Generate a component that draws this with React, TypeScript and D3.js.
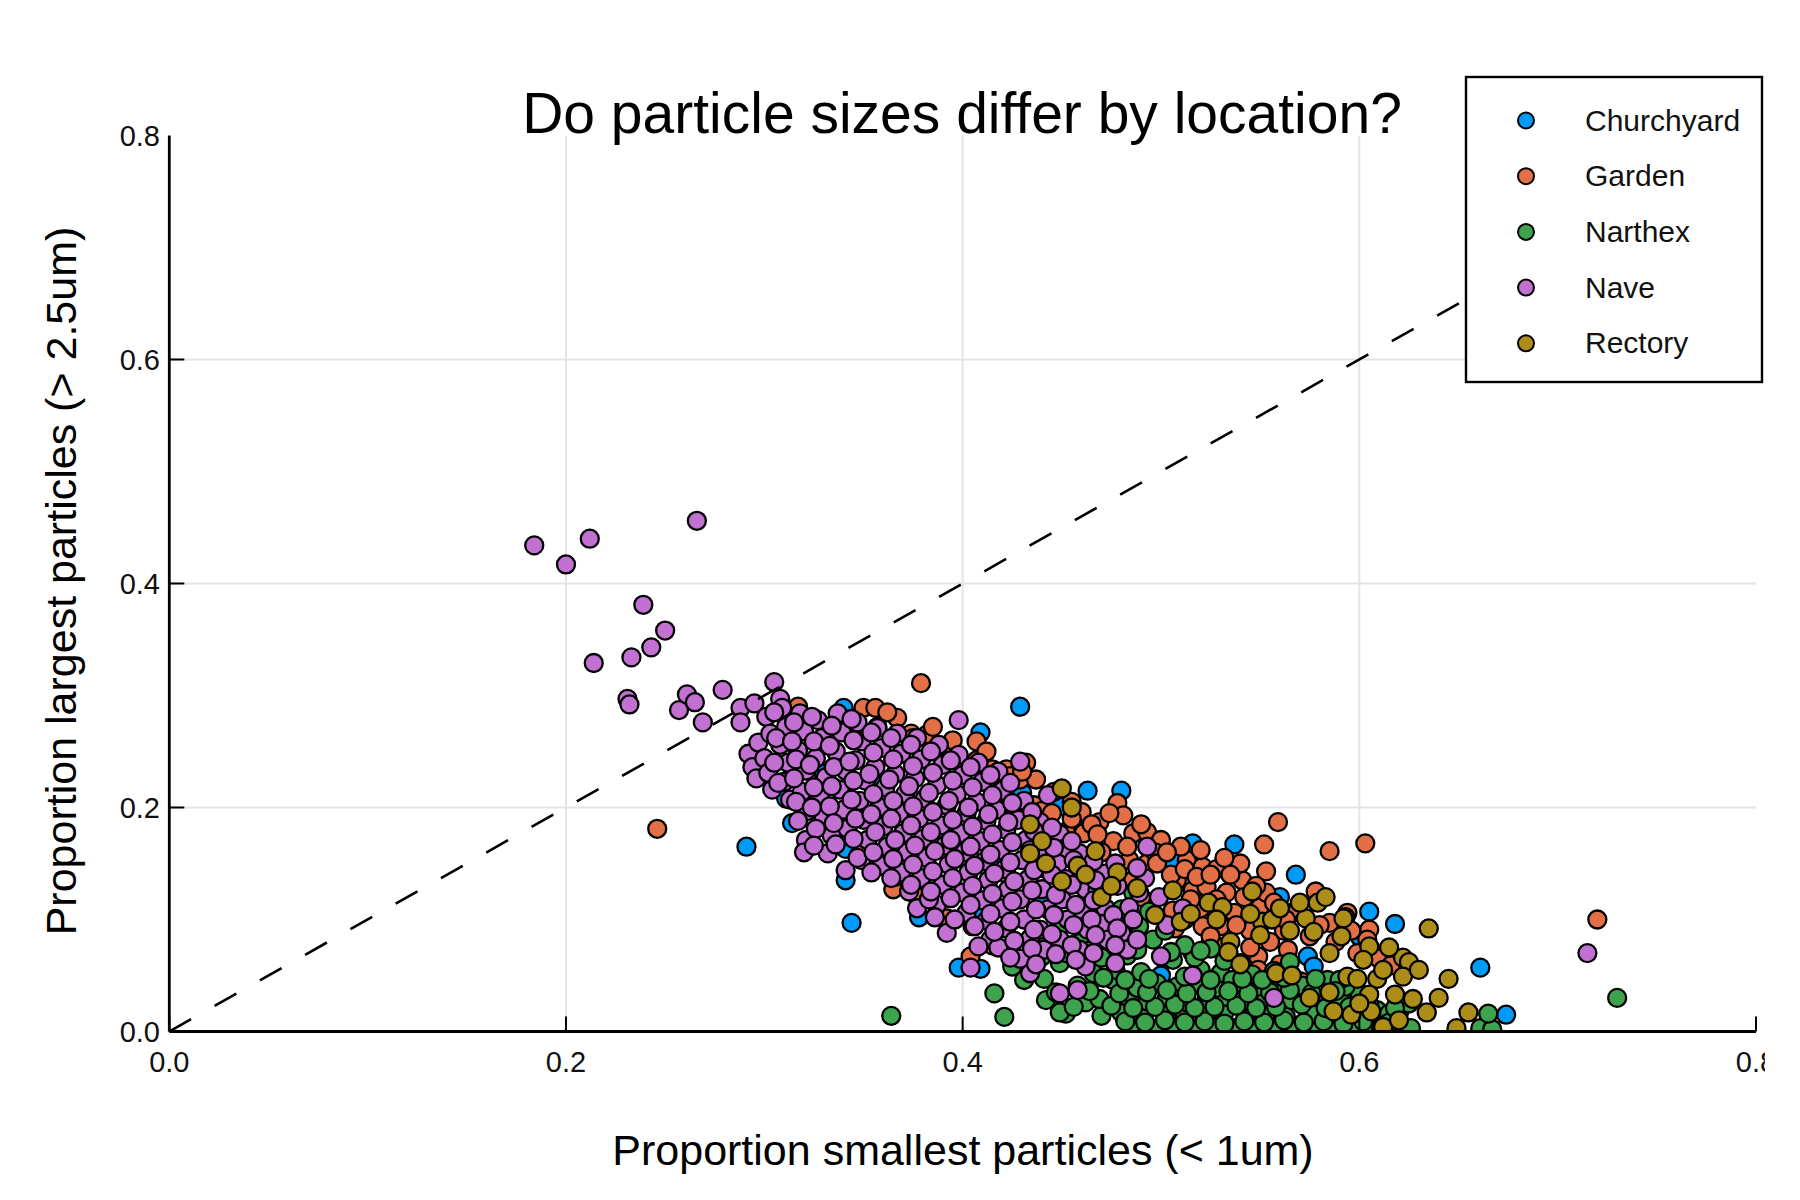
import React, { useRef, useEffect } from 'react';
import * as d3 from 'd3';

type Pt = [number, number];

const locations = ['Churchyard', 'Garden', 'Narthex', 'Nave', 'Rectory'];
const colors = ['#009af9', '#e26f46', '#3da44d', '#c271d2', '#ac8d18'];
const xTicks = [0, 0.2, 0.4, 0.6, 0.8];
const yTicks = [0, 0.2, 0.4, 0.6, 0.8];
const gridTicks = [0.2, 0.4, 0.6];

// proportion < 1um, proportion > 2.5um
const churchyard: Pt[] = [
  [0.291, 0.165], [0.314, 0.186], [0.311, 0.208], [0.340, 0.289], [0.347, 0.263], [0.429, 0.290],
  [0.409, 0.267], [0.344, 0.097], [0.341, 0.135], [0.341, 0.163], [0.378, 0.102], [0.398, 0.057],
  [0.409, 0.056], [0.410, 0.108], [0.430, 0.213], [0.449, 0.201], [0.456, 0.186], [0.456, 0.195],
  [0.463, 0.215], [0.480, 0.215], [0.506, 0.153], [0.516, 0.168], [0.537, 0.167], [0.560, 0.120],
  [0.568, 0.140], [0.566, 0.106], [0.541, 0.102], [0.525, 0.079], [0.540, 0.061], [0.574, 0.067],
  [0.577, 0.058], [0.605, 0.107], [0.618, 0.096], [0.661, 0.057], [0.674, 0.015], [0.600, 0.085],
  [0.470, 0.130], [0.440, 0.120], [0.500, 0.050], [0.555, 0.020], [0.360, 0.220], [0.390, 0.180],
  [0.330, 0.230], [0.420, 0.150], [0.482, 0.100],
];

const garden: Pt[] = [
  [0.246, 0.181], [0.379, 0.311], [0.720, 0.100], [0.319, 0.203], [0.317, 0.290], [0.344, 0.272],
  [0.350, 0.289], [0.356, 0.289], [0.357, 0.272], [0.367, 0.280], [0.374, 0.266], [0.375, 0.262],
  [0.382, 0.265], [0.348, 0.158], [0.365, 0.127], [0.374, 0.125], [0.366, 0.138], [0.392, 0.101],
  [0.415, 0.077], [0.404, 0.067], [0.396, 0.242], [0.407, 0.259], [0.407, 0.242], [0.415, 0.234],
  [0.422, 0.234], [0.424, 0.228], [0.429, 0.225], [0.437, 0.225], [0.436, 0.202], [0.442, 0.184],
  [0.452, 0.178], [0.461, 0.177], [0.469, 0.187], [0.476, 0.170], [0.478, 0.204], [0.481, 0.193],
  [0.486, 0.177], [0.493, 0.178], [0.500, 0.171], [0.484, 0.153], [0.493, 0.150], [0.513, 0.153],
  [0.521, 0.147], [0.486, 0.135], [0.508, 0.135], [0.516, 0.126], [0.523, 0.129], [0.506, 0.108],
  [0.507, 0.092], [0.516, 0.070], [0.521, 0.094], [0.530, 0.094], [0.533, 0.124], [0.537, 0.106],
  [0.550, 0.111], [0.553, 0.124], [0.549, 0.067], [0.549, 0.055], [0.564, 0.073], [0.570, 0.045],
  [0.569, 0.109], [0.585, 0.097], [0.594, 0.106], [0.559, 0.187], [0.585, 0.161], [0.603, 0.168],
  [0.552, 0.167], [0.553, 0.143], [0.593, 0.102], [0.605, 0.091], [0.614, 0.064], [0.571, 0.044],
  [0.599, 0.070], [0.610, 0.065], [0.616, 0.059], [0.541, 0.135], [0.528, 0.145], [0.545, 0.090],
  [0.460, 0.196], [0.470, 0.160], [0.455, 0.205], [0.446, 0.214], [0.432, 0.240], [0.440, 0.197],
  [0.422, 0.141], [0.375, 0.124], [0.418, 0.213], [0.426, 0.200], [0.490, 0.120], [0.530, 0.075],
  [0.562, 0.090], [0.578, 0.125], [0.540, 0.150], [0.510, 0.165], [0.520, 0.110], [0.497, 0.160],
  [0.445, 0.195], [0.465, 0.185], [0.474, 0.195], [0.483, 0.165], [0.490, 0.185], [0.498, 0.150],
  [0.503, 0.160], [0.505, 0.140], [0.512, 0.145], [0.518, 0.138], [0.525, 0.140], [0.528, 0.118],
  [0.535, 0.140], [0.542, 0.120], [0.548, 0.130], [0.557, 0.115], [0.563, 0.100], [0.575, 0.085],
  [0.580, 0.095], [0.588, 0.080], [0.596, 0.090], [0.604, 0.082], [0.512, 0.100], [0.525, 0.085],
  [0.538, 0.095], [0.555, 0.080], [0.560, 0.060], [0.545, 0.075], [0.515, 0.118], [0.430, 0.232],
  [0.420, 0.222], [0.412, 0.250], [0.390, 0.255], [0.385, 0.272], [0.362, 0.285], [0.395, 0.260],
  [0.455, 0.190], [0.468, 0.176], [0.520, 0.162], [0.532, 0.155],
];

const narthex: Pt[] = [
  [0.487, 0.003], [0.497, 0.002], [0.507, 0.004], [0.517, 0.002], [0.527, 0.004], [0.537, 0.003],
  [0.547, 0.002], [0.557, 0.004], [0.567, 0.003], [0.577, 0.002], [0.587, 0.004], [0.597, 0.003],
  [0.605, 0.002], [0.611, 0.003], [0.619, 0.002], [0.626, 0.003], [0.661, 0.003], [0.667, 0.002],
  [0.452, 0.016], [0.470, 0.014], [0.480, 0.017], [0.491, 0.013], [0.502, 0.016], [0.512, 0.015],
  [0.522, 0.013], [0.532, 0.017], [0.543, 0.014], [0.553, 0.016], [0.563, 0.013], [0.578, 0.015],
  [0.588, 0.015], [0.609, 0.019], [0.615, 0.016], [0.620, 0.017], [0.665, 0.016], [0.364, 0.014],
  [0.421, 0.013], [0.449, 0.017], [0.442, 0.028], [0.462, 0.026], [0.469, 0.029], [0.483, 0.031],
  [0.493, 0.027], [0.503, 0.030], [0.513, 0.026], [0.523, 0.029], [0.533, 0.031], [0.543, 0.027],
  [0.553, 0.030], [0.566, 0.028], [0.577, 0.031], [0.590, 0.031], [0.600, 0.034], [0.625, 0.025],
  [0.431, 0.046], [0.458, 0.041], [0.476, 0.046], [0.488, 0.039], [0.498, 0.043], [0.508, 0.040],
  [0.518, 0.042], [0.528, 0.039], [0.539, 0.043], [0.549, 0.040], [0.560, 0.038], [0.571, 0.041],
  [0.584, 0.046], [0.593, 0.040], [0.416, 0.034], [0.449, 0.061], [0.466, 0.052], [0.477, 0.055],
  [0.490, 0.053], [0.506, 0.064], [0.520, 0.055], [0.530, 0.052], [0.546, 0.051], [0.557, 0.054],
  [0.590, 0.046], [0.536, 0.046], [0.425, 0.058], [0.440, 0.067], [0.452, 0.070], [0.470, 0.066],
  [0.483, 0.068], [0.517, 0.066], [0.532, 0.063], [0.565, 0.062], [0.437, 0.080], [0.459, 0.079],
  [0.476, 0.081], [0.496, 0.082], [0.512, 0.077], [0.525, 0.074], [0.405, 0.094], [0.448, 0.090],
  [0.468, 0.093], [0.489, 0.094], [0.502, 0.090], [0.462, 0.106], [0.480, 0.109], [0.494, 0.107],
  [0.486, 0.124], [0.730, 0.030],
  [0.482, 0.009], [0.492, 0.008], [0.502, 0.010], [0.512, 0.008], [0.522, 0.009], [0.532, 0.007],
  [0.542, 0.009], [0.552, 0.008], [0.562, 0.010], [0.572, 0.008], [0.582, 0.009], [0.592, 0.007],
  [0.602, 0.009], [0.615, 0.008],
  [0.456, 0.022], [0.475, 0.023], [0.486, 0.021], [0.497, 0.022], [0.507, 0.024], [0.517, 0.021],
  [0.527, 0.022], [0.538, 0.023], [0.548, 0.021], [0.558, 0.022], [0.571, 0.024], [0.583, 0.021],
  [0.595, 0.022], [0.605, 0.024], [0.618, 0.021],
  [0.447, 0.035], [0.464, 0.036], [0.479, 0.034], [0.493, 0.035], [0.503, 0.037], [0.513, 0.034],
  [0.523, 0.035], [0.534, 0.036], [0.544, 0.034], [0.555, 0.035], [0.565, 0.037], [0.576, 0.034],
  [0.588, 0.036],
  [0.441, 0.047], [0.471, 0.048], [0.482, 0.046], [0.494, 0.047], [0.512, 0.049], [0.525, 0.046],
  [0.541, 0.047], [0.551, 0.046], [0.562, 0.048], [0.578, 0.047],
  [0.463, 0.072], [0.488, 0.073], [0.505, 0.071], [0.520, 0.072],
];

const nave: Pt[] = [
  [0.184, 0.434], [0.200, 0.417], [0.212, 0.440], [0.266, 0.456], [0.239, 0.381], [0.250, 0.358],
  [0.243, 0.343], [0.233, 0.334], [0.214, 0.329], [0.231, 0.297], [0.232, 0.292], [0.257, 0.287],
  [0.261, 0.301], [0.265, 0.294], [0.269, 0.276], [0.279, 0.305], [0.305, 0.312], [0.288, 0.289],
  [0.295, 0.293], [0.288, 0.276], [0.308, 0.297], [0.715, 0.070], [0.398, 0.278],
  [0.292, 0.248], [0.294, 0.236], [0.297, 0.258], [0.296, 0.226],
  [0.301, 0.281], [0.303, 0.266], [0.300, 0.244], [0.302, 0.231], [0.304, 0.216],
  [0.309, 0.289], [0.311, 0.272], [0.308, 0.256], [0.312, 0.240], [0.310, 0.223], [0.313, 0.207],
  [0.318, 0.284], [0.320, 0.268], [0.317, 0.251], [0.321, 0.233], [0.319, 0.214], [0.322, 0.197],
  [0.321, 0.171], [0.320, 0.160],
  [0.327, 0.278], [0.329, 0.262], [0.326, 0.244], [0.331, 0.227], [0.328, 0.209], [0.330, 0.191],
  [0.332, 0.159], [0.334, 0.175],
  [0.337, 0.284], [0.339, 0.267], [0.336, 0.250], [0.341, 0.233], [0.338, 0.216], [0.340, 0.198],
  [0.342, 0.181], [0.341, 0.144],
  [0.347, 0.276], [0.349, 0.259], [0.346, 0.242], [0.351, 0.224], [0.348, 0.206], [0.350, 0.189],
  [0.352, 0.171], [0.349, 0.153],
  [0.357, 0.271], [0.359, 0.253], [0.356, 0.236], [0.361, 0.218], [0.358, 0.200], [0.360, 0.183],
  [0.362, 0.165], [0.359, 0.148],
  [0.367, 0.266], [0.369, 0.248], [0.366, 0.230], [0.371, 0.212], [0.368, 0.195], [0.370, 0.177],
  [0.372, 0.160], [0.369, 0.142], [0.373, 0.125],
  [0.377, 0.262], [0.379, 0.243], [0.376, 0.226], [0.381, 0.208], [0.378, 0.190], [0.380, 0.172],
  [0.382, 0.155], [0.379, 0.137], [0.377, 0.110], [0.387, 0.113],
  [0.388, 0.256], [0.390, 0.238], [0.387, 0.220], [0.392, 0.202], [0.389, 0.184], [0.391, 0.166],
  [0.393, 0.149], [0.390, 0.131], [0.392, 0.088],
  [0.398, 0.247], [0.400, 0.229], [0.397, 0.212], [0.402, 0.195], [0.399, 0.177], [0.401, 0.160],
  [0.403, 0.142], [0.400, 0.124], [0.402, 0.106], [0.404, 0.057],
  [0.408, 0.240], [0.410, 0.223], [0.407, 0.205], [0.412, 0.188], [0.409, 0.170], [0.411, 0.152],
  [0.413, 0.135], [0.410, 0.117], [0.412, 0.099], [0.414, 0.082],
  [0.418, 0.232], [0.420, 0.215], [0.417, 0.198], [0.422, 0.180], [0.419, 0.162], [0.421, 0.145],
  [0.423, 0.127], [0.420, 0.110], [0.422, 0.092], [0.418, 0.075],
  [0.429, 0.241], [0.431, 0.206], [0.428, 0.189], [0.432, 0.171], [0.430, 0.153], [0.433, 0.136],
  [0.429, 0.118], [0.431, 0.100], [0.434, 0.083], [0.434, 0.052], [0.429, 0.065],
  [0.443, 0.211], [0.439, 0.187], [0.441, 0.172], [0.438, 0.158], [0.442, 0.145], [0.440, 0.127],
  [0.443, 0.109], [0.439, 0.091], [0.441, 0.073],
  [0.449, 0.176], [0.451, 0.163], [0.448, 0.150], [0.452, 0.136], [0.450, 0.118], [0.453, 0.100],
  [0.449, 0.082], [0.449, 0.034], [0.458, 0.037],
  [0.459, 0.159], [0.461, 0.146], [0.462, 0.127], [0.460, 0.109], [0.463, 0.091], [0.459, 0.073],
  [0.462, 0.058],
  [0.472, 0.141], [0.468, 0.126], [0.472, 0.110], [0.470, 0.096], [0.473, 0.082], [0.477, 0.061],
  [0.493, 0.165], [0.492, 0.137], [0.484, 0.111], [0.486, 0.100], [0.480, 0.088], [0.483, 0.073],
  [0.499, 0.120], [0.500, 0.067], [0.503, 0.095], [0.511, 0.110], [0.516, 0.050], [0.557, 0.030],
  [0.305, 0.285], [0.306, 0.262], [0.305, 0.240], [0.307, 0.222],
  [0.315, 0.276], [0.314, 0.259], [0.316, 0.243], [0.315, 0.226], [0.316, 0.205], [0.317, 0.188],
  [0.324, 0.281], [0.325, 0.259], [0.323, 0.238], [0.325, 0.218], [0.324, 0.200], [0.326, 0.181],
  [0.325, 0.166],
  [0.334, 0.273], [0.333, 0.255], [0.335, 0.236], [0.334, 0.219], [0.333, 0.201], [0.335, 0.186],
  [0.336, 0.167],
  [0.344, 0.279], [0.345, 0.260], [0.343, 0.241], [0.345, 0.224], [0.344, 0.207], [0.346, 0.190],
  [0.345, 0.172], [0.347, 0.155],
  [0.354, 0.267], [0.355, 0.249], [0.353, 0.230], [0.355, 0.212], [0.354, 0.194], [0.356, 0.178],
  [0.355, 0.160], [0.354, 0.142],
  [0.364, 0.262], [0.365, 0.243], [0.363, 0.225], [0.365, 0.206], [0.364, 0.190], [0.366, 0.171],
  [0.365, 0.154], [0.364, 0.137],
  [0.374, 0.256], [0.375, 0.237], [0.373, 0.219], [0.375, 0.201], [0.374, 0.184], [0.376, 0.166],
  [0.375, 0.149], [0.374, 0.131], [0.383, 0.118],
  [0.384, 0.250], [0.385, 0.231], [0.383, 0.213], [0.385, 0.196], [0.384, 0.178], [0.386, 0.161],
  [0.385, 0.143], [0.384, 0.125], [0.386, 0.102],
  [0.394, 0.242], [0.395, 0.224], [0.393, 0.206], [0.395, 0.189], [0.394, 0.171], [0.396, 0.154],
  [0.395, 0.137], [0.394, 0.119], [0.396, 0.100],
  [0.404, 0.236], [0.405, 0.218], [0.403, 0.200], [0.405, 0.183], [0.404, 0.165], [0.406, 0.148],
  [0.405, 0.130], [0.404, 0.113], [0.406, 0.094], [0.408, 0.076],
  [0.414, 0.229], [0.415, 0.211], [0.413, 0.194], [0.415, 0.176], [0.414, 0.158], [0.416, 0.141],
  [0.415, 0.123], [0.414, 0.105], [0.416, 0.089],
  [0.424, 0.222], [0.425, 0.204], [0.423, 0.187], [0.425, 0.169], [0.424, 0.151], [0.426, 0.134],
  [0.425, 0.116], [0.424, 0.098], [0.426, 0.081], [0.424, 0.066],
  [0.435, 0.196], [0.436, 0.179], [0.434, 0.162], [0.436, 0.144], [0.435, 0.126], [0.437, 0.109],
  [0.436, 0.091], [0.435, 0.074], [0.437, 0.060],
  [0.445, 0.182], [0.446, 0.164], [0.445, 0.140], [0.447, 0.122], [0.446, 0.104], [0.445, 0.087],
  [0.447, 0.069],
  [0.455, 0.170], [0.456, 0.153], [0.455, 0.131], [0.457, 0.113], [0.456, 0.095], [0.455, 0.077],
  [0.457, 0.064],
  [0.466, 0.152], [0.467, 0.135], [0.466, 0.117], [0.465, 0.100], [0.467, 0.086], [0.466, 0.070],
  [0.477, 0.150], [0.478, 0.130], [0.476, 0.104], [0.478, 0.092], [0.477, 0.077],
  [0.488, 0.146], [0.489, 0.124], [0.488, 0.082],
];

const rectory: Pt[] = [
  [0.450, 0.217], [0.434, 0.185], [0.440, 0.170], [0.434, 0.159], [0.458, 0.148], [0.450, 0.134],
  [0.467, 0.161], [0.506, 0.126], [0.524, 0.115], [0.531, 0.111], [0.546, 0.125], [0.551, 0.098],
  [0.556, 0.100], [0.550, 0.086], [0.535, 0.080], [0.534, 0.071], [0.558, 0.052], [0.566, 0.050],
  [0.579, 0.115], [0.573, 0.101], [0.577, 0.089], [0.592, 0.101], [0.591, 0.085], [0.594, 0.049],
  [0.605, 0.076], [0.602, 0.064], [0.622, 0.066], [0.625, 0.062], [0.622, 0.049], [0.609, 0.047],
  [0.599, 0.047], [0.605, 0.033], [0.618, 0.033], [0.635, 0.092], [0.645, 0.047], [0.596, 0.015],
  [0.634, 0.017], [0.655, 0.017], [0.649, 0.003], [0.488, 0.128], [0.497, 0.104], [0.478, 0.142],
  [0.510, 0.098], [0.540, 0.060], [0.587, 0.018], [0.627, 0.029], [0.606, 0.018], [0.612, 0.004],
  [0.575, 0.030], [0.470, 0.120],
  [0.455, 0.200], [0.442, 0.150], [0.462, 0.140], [0.475, 0.130], [0.515, 0.105], [0.528, 0.100],
  [0.545, 0.105], [0.565, 0.090], [0.585, 0.070], [0.615, 0.075], [0.612, 0.055], [0.630, 0.055],
  [0.585, 0.035], [0.600, 0.025], [0.640, 0.030], [0.620, 0.010], [0.570, 0.115], [0.583, 0.120],
  [0.560, 0.110],
];

const seriesData: Pt[][] = [churchyard, garden, narthex, nave, rectory];

const W = 1800;
const H = 1200;
const left = 169.3;
const right = 1756;
const top = 135.5;
const bottom = 1031.5;
const font = '"Liberation Sans", Arial, Helvetica, sans-serif';

const App: React.FC = () => {
  const svgRef = useRef<SVGSVGElement>(null);

  useEffect(() => {
    if (!svgRef.current) return;
    const svg = d3.select(svgRef.current);
    svg.selectAll('*').remove();

    const x = d3.scaleLinear().domain([0, 0.8]).range([left, right]);
    const y = d3.scaleLinear().domain([0, 0.8]).range([bottom, top]);

    const defs = svg.append('defs');
    defs.append('clipPath').attr('id', 'page-clip')
      .append('rect').attr('x', 0).attr('y', 0).attr('width', 1765).attr('height', H);
    defs.append('clipPath').attr('id', 'plot-clip')
      .append('rect').attr('x', left).attr('y', top).attr('width', right - left).attr('height', bottom - top);

    const root = svg.append('g').attr('clip-path', 'url(#page-clip)');
    root.append('rect').attr('width', W).attr('height', H).attr('fill', '#fff');

    // grid
    const grid = root.append('g').attr('stroke', '#e4e4e4').attr('stroke-width', 2);
    gridTicks.forEach(t => {
      grid.append('line').attr('x1', x(t)).attr('x2', x(t)).attr('y1', top).attr('y2', bottom);
      grid.append('line').attr('x1', left).attr('x2', right).attr('y1', y(t)).attr('y2', y(t));
    });

    // scatter, in series order
    const plot = root.append('g').attr('clip-path', 'url(#plot-clip)');
    seriesData.forEach((pts, i) => {
      plot.append('g')
        .selectAll('circle')
        .data(pts)
        .join('circle')
        .attr('cx', d => x(d[0]))
        .attr('cy', d => y(d[1]))
        .attr('r', 9)
        .attr('fill', colors[i])
        .attr('stroke', '#000')
        .attr('stroke-width', 2.3);
    });

    // y = x reference line
    const line = d3.line<number>().x(d => x(d)).y(d => y(d));
    plot.append('path')
      .attr('d', line([0, 0.8]))
      .attr('fill', 'none')
      .attr('stroke', '#000')
      .attr('stroke-width', 2.6)
      .attr('stroke-dasharray', '25 27');

    // axes
    const axes = root.append('g').attr('stroke', '#000');
    axes.append('line').attr('x1', left).attr('x2', right).attr('y1', bottom).attr('y2', bottom).attr('stroke-width', 2.8);
    axes.append('line').attr('x1', left).attr('x2', left).attr('y1', top).attr('y2', bottom).attr('stroke-width', 2.8);
    xTicks.forEach(t => {
      axes.append('line').attr('x1', x(t)).attr('x2', x(t)).attr('y1', bottom).attr('y2', bottom - 15).attr('stroke-width', 2);
    });
    yTicks.slice(0, 4).forEach(t => {
      axes.append('line').attr('x1', left).attr('x2', left + 15).attr('y1', y(t)).attr('y2', y(t)).attr('stroke-width', 2);
    });

    const fmt = d3.format('.1f');
    root.append('g')
      .selectAll('text')
      .data(xTicks)
      .join('text')
      .attr('x', d => x(d))
      .attr('y', 1072)
      .attr('text-anchor', 'middle')
      .attr('font-family', font)
      .attr('font-size', 29)
      .attr('fill', '#111')
      .text(d => fmt(d));
    root.append('g')
      .selectAll('text')
      .data(yTicks)
      .join('text')
      .attr('x', 160)
      .attr('y', d => y(d) + 10.4)
      .attr('text-anchor', 'end')
      .attr('font-family', font)
      .attr('font-size', 29)
      .attr('fill', '#111')
      .text(d => fmt(d));

    // titles
    root.append('text')
      .attr('x', 962).attr('y', 133)
      .attr('text-anchor', 'middle')
      .attr('font-family', font)
      .attr('font-size', 57)
      .attr('fill', '#000')
      .text('Do particle sizes differ by location?');
    root.append('text')
      .attr('x', 963).attr('y', 1165)
      .attr('text-anchor', 'middle')
      .attr('font-family', font)
      .attr('font-size', 43)
      .attr('fill', '#000')
      .text('Proportion smallest particles (< 1um)');
    root.append('text')
      .attr('transform', 'translate(76, 581) rotate(-90)')
      .attr('text-anchor', 'middle')
      .attr('font-family', font)
      .attr('font-size', 43)
      .attr('fill', '#000')
      .text('Proportion largest particles (> 2.5um)');

    // legend
    const legend = root.append('g');
    legend.append('rect')
      .attr('x', 1466).attr('y', 77)
      .attr('width', 296).attr('height', 305)
      .attr('fill', '#fff')
      .attr('stroke', '#000')
      .attr('stroke-width', 2.4);
    locations.forEach((name, i) => {
      const cy = 120.5 + i * 55.7;
      legend.append('circle')
        .attr('cx', 1526).attr('cy', cy).attr('r', 8)
        .attr('fill', colors[i])
        .attr('stroke', '#000')
        .attr('stroke-width', 2);
      legend.append('text')
        .attr('x', 1585).attr('y', cy + 10)
        .attr('font-family', font)
        .attr('font-size', 30)
        .attr('fill', '#111')
        .text(name);
    });
  }, []);

  return (
    <div style={{ position: 'absolute', left: 0, top: 0, width: W, height: H, background: '#fff' }}>
      <svg ref={svgRef} width={W} height={H} />
    </div>
  );
};

export default App;
